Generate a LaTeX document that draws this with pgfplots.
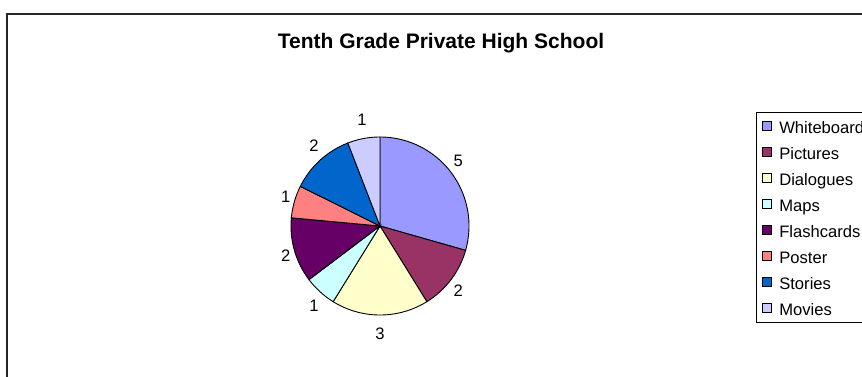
\documentclass[border=0pt]{standalone}
\usepackage{pgfplots}
\usepackage{pgfplotstable}
\pgfplotsset{compat=1.18}
\usepackage{fontspec}
\setmainfont{Liberation Sans}

\definecolor{c0}{HTML}{9999FF}
\definecolor{c1}{HTML}{993366}
\definecolor{c2}{HTML}{FFFFCC}
\definecolor{c3}{HTML}{CCFFFF}
\definecolor{c4}{HTML}{660066}
\definecolor{c5}{HTML}{FF8080}
\definecolor{c6}{HTML}{0066CC}
\definecolor{c7}{HTML}{CCCCFF}

\newcommand\labfont{\fontsize{16.6}{19.9}\selectfont}

\pgfplotstableread{
name value
Whiteboard 5
Pictures 2
Dialogues 3
Maps 1
Flashcards 2
Poster 1
Stories 2
Movies 1
}\pietable

\begin{document}
\begin{tikzpicture}
\path[use as bounding box] (0pt,0pt) rectangle (862pt,376pt);
\clip (0pt,0pt) rectangle (862pt,376pt);
\draw[line width=1.3pt, black!85] (7pt,-10pt) -- (7pt,362pt) -- (880pt,362pt);
\node[font=\bfseries\fontsize{21}{25}\selectfont, anchor=base] at (441pt,328pt) {Tenth Grade Private High School};

% total
\gdef\total{0}
\pgfplotsinvokeforeach{0,...,7}{%
  \pgfplotstablegetelem{#1}{value}\of\pietable
  \pgfmathsetmacro\newtot{\total+\pgfplotsretval}%
  \global\let\total\newtot
}
\gdef\cum{0}

\begin{axis}[
  at={(380pt,150pt)}, anchor=center,
  scale only axis, width=200pt, height=200pt,
  xmin=-100, xmax=100, ymin=-100, ymax=100,
  hide axis, clip=false,
  legend image code/.code={\draw[#1] (0pt,-4.5pt) rectangle (9pt,4.5pt);},
  legend cell align=left,
  legend style={
    at={(2.38,1.07)}, anchor=north west,
    font=\labfont, draw=black, line width=0.8pt, fill=white,
    inner xsep=6pt, inner ysep=4pt,
    row sep=6pt,
    nodes={inner sep=0pt, text height=17pt, text depth=3pt},
    /tikz/every odd column/.append style={column sep=7pt},
    /tikz/every even column/.append style={nodes={text width=90pt}},
  },
]
\pgfplotsinvokeforeach{0,...,7}{%
  \pgfplotstablegetelem{#1}{value}\of\pietable
  \let\myval\pgfplotsretval
  \pgfplotstablegetelem{#1}{name}\of\pietable
  \let\myname\pgfplotsretval
  \pgfmathsetmacro\aa{90-360*\cum/\total}%
  \pgfmathsetmacro\newcum{\cum+\myval}%
  \global\let\cum\newcum
  \pgfmathsetmacro\bb{90-360*\cum/\total}%
  \pgfmathsetmacro\mm{(\aa+\bb)/2}%
  \addplot[fill=c#1, draw=black, line width=0.9pt, domain=\bb:\aa, samples=60, variable=\t]
    ({89*cos(\t)},{89*sin(\t)}) -- (axis cs:0,0) -- cycle;
  \addlegendentryexpanded{\myname}
  \pgfmathsetmacro\lx{98*cos(\mm)}%
  \pgfmathsetmacro\ly{108*sin(\mm)}%
  \edef\tmp{\noexpand\node[font=\noexpand\labfont] at (axis cs:\lx,\ly) {\myval};}\tmp
}
\end{axis}
\end{tikzpicture}
\end{document}
